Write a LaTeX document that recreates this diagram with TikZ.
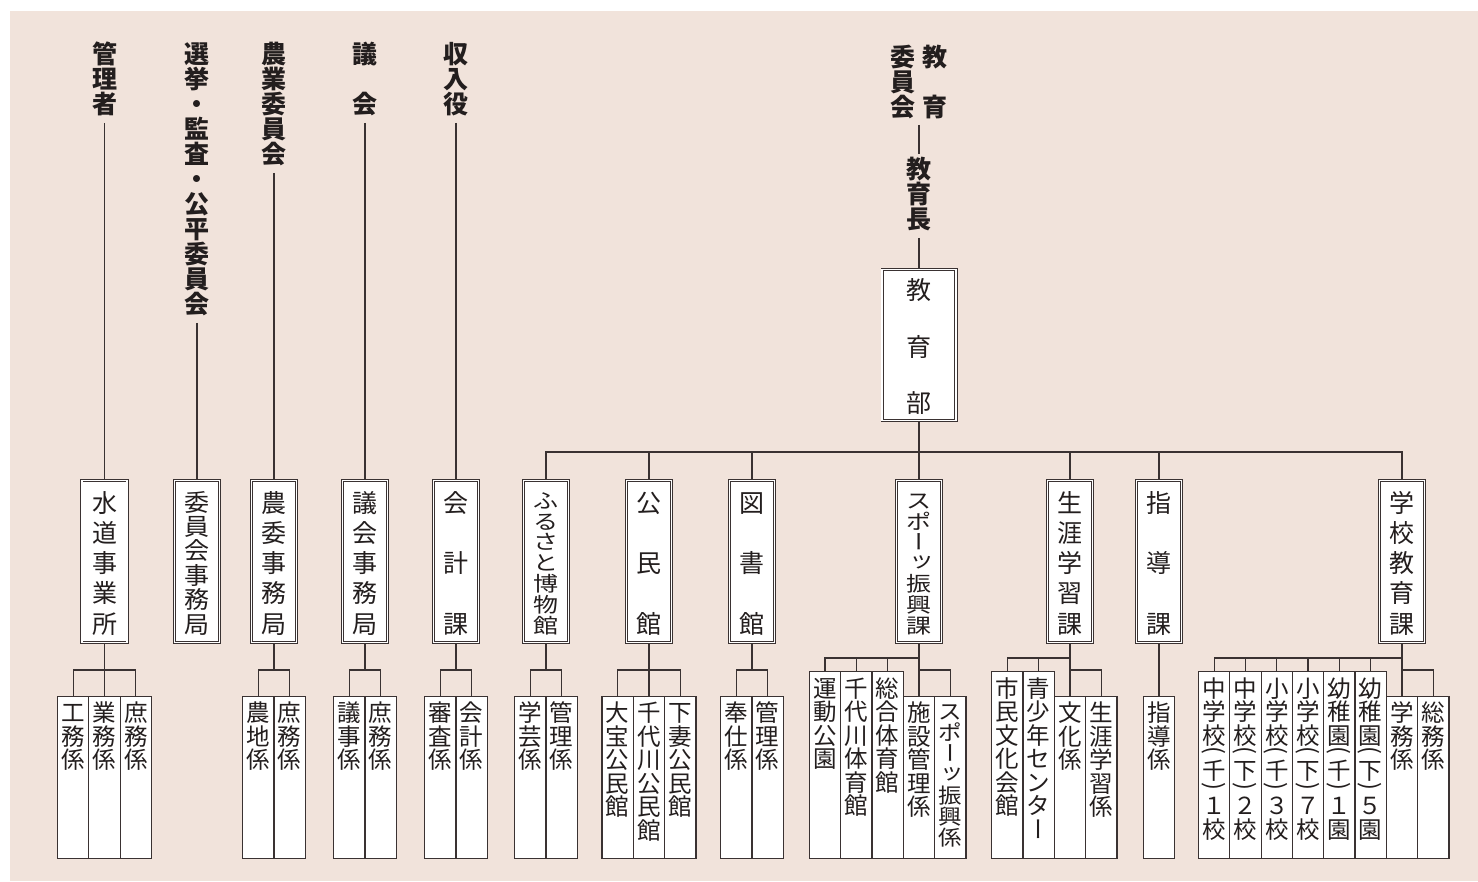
\documentclass[tikz,border=0pt]{standalone}
\usepackage{fontspec}
\usepackage{graphicx}
\newfontfamily\jp{Noto Sans CJK JP}
\usetikzlibrary{calc}
\definecolor{bgpink}{RGB}{241,227,219}
\definecolor{lc}{RGB}{58,50,50}
\definecolor{tc}{RGB}{35,30,30}
\pgfdeclarelayer{bg}\pgfdeclarelayer{ln}\pgfsetlayers{bg,ln,main}
\def\sth{.88em}\def\std{.12em}\def\vf{1}
\newcommand\vitem{\hbox to 30pt{\hss\scalebox{1}[\vf]{\ch\vrule height\sth depth\std width0pt}\hss}}
\newcommand\vsp[3]{\vbox to #1{\offinterlineskip\def\vf{#2}\kern3pt\foreach \ch [count=\ci] in {#3}{\ifnum\ci>1 \vfill\fi\vitem}}}
\newcommand\vlf[3]{\vbox to #1{\offinterlineskip\def\vf{#2}\kern5pt\foreach \ch in {#3}{\vitem}\vfill}}
\newcommand\vst[1]{\vbox{\offinterlineskip\foreach \ch in {#1}{\vitem}}}
\newcommand\pa[1]{\def\sth{0pt}\def\std{0pt}\vbox to .5em{\vss\hbox{\rotatebox[origin=c]{-90}{#1\vrule height.88em depth.12em width0pt}}\vss}}
\newcommand\po{\pa{(}}
\newcommand\pc{\pa{)}}
\newcommand\cho{\rotatebox[origin=c]{-90}{ー\vrule height.88em depth.12em width0pt}}
\newcommand\ttu{\kern.1em\raisebox{.15em}{ッ}\kern-.1em}
\tikzset{
 conn/.style={draw=lc, line width=1.3pt},
 toplab/.style={anchor=north, inner sep=0pt, text=tc, font=\jp\bfseries\fontsize{25}{25}\selectfont},
 dbox/.style={draw=lc, double=white, double distance=1.6pt, line width=0.8pt, fill=white, inner sep=0pt, minimum width=45.3pt, minimum height=161.8pt, text=tc, font=\jp\fontsize{25}{25}\selectfont},
 leaf/.style={draw=lc, line width=1.2pt, fill=white, inner sep=0pt, minimum width=31.3pt, anchor=north, text=tc, font=\jp\fontsize{23.5}{23.5}\selectfont},
}
\begin{document}
\begin{tikzpicture}[x=1pt,y=-1pt]
\useasboundingbox (0,0) rectangle (1478,881);
\begin{pgfonlayer}{bg}
\fill[white] (0,0) rectangle (1478,881);
\fill[bgpink] (10,11) rectangle (1478,881);
\end{pgfonlayer}
% top labels
\node[toplab] (t1) at (104.5,41.5) {\vst{管,理,者}};
\node[toplab] (t2) at (197,41.5) {\vst{選,挙,・,監,査,・,公,平,委,員,会}};
\node[toplab] (t3) at (274,41.5) {\vst{農,業,委,員,会}};
\node[toplab] (t4) at (365,41.5) {\vst{議,,会}};
\node[toplab] (t5) at (456,41.5) {\vst{収,入,役}};
\node[toplab] (ec) at (919,44.5) {\vst{委,員,会}\kern2.6pt\vst{教,,育}};
\node[toplab] (ech) at (919,156.5) {\vst{教,育,長}};
% boxes
\node[dbox, minimum width=73.8pt, minimum height=150.8pt] (bu) at (919,345) {\vsp{138pt}{1}{教,育,部}};
\node[dbox] (b1) at (104.5,561.5) {\vsp{146pt}{1}{水,道,事,業,所}};
\node[dbox] (b2) at (197,561.5) {\vsp{146pt}{0.953}{委,員,会,事,務,局}};
\node[dbox] (b3) at (274,561.5) {\vsp{146pt}{1}{農,委,事,務,局}};
\node[dbox] (b4) at (365,561.5) {\vsp{146pt}{1}{議,会,事,務,局}};
\node[dbox] (b5) at (456,561.5) {\vsp{146pt}{1}{会,計,課}};
\node[dbox] (b6) at (546,561.5) {\vsp{146pt}{0.817}{ふ,る,さ,と,博,物,館}};
\node[dbox] (b7) at (649,561.5) {\vsp{146pt}{1}{公,民,館}};
\node[dbox] (b8) at (752,561.5) {\vsp{146pt}{1}{図,書,館}};
\node[dbox] (b9) at (919,561.5) {\vsp{146pt}{0.817}{ス,ポ,\cho,\ttu,振,興,課}};
\node[dbox] (b10) at (1070,561.5) {\vsp{146pt}{1}{生,涯,学,習,課}};
\node[dbox] (b11) at (1159,561.5) {\vsp{146pt}{1}{指,導,課}};
\node[dbox] (b12) at (1402,561.5) {\vsp{146pt}{1}{学,校,教,育,課}};
% leaves
\node[leaf] (l1a) at (73.2,695.5) {\vlf{162.5pt}{1}{工,務,係}};
\node[leaf] (l1b) at (104.5,695.5) {\vlf{162.5pt}{1}{業,務,係}};
\node[leaf] (l1c) at (135.8,695.5) {\vlf{162.5pt}{1}{庶,務,係}};
\node[leaf] (l3a) at (258.35,695.5) {\vlf{162.5pt}{1}{農,地,係}};
\node[leaf] (l3b) at (289.65,695.5) {\vlf{162.5pt}{1}{庶,務,係}};
\node[leaf] (l4a) at (349.35,695.5) {\vlf{162.5pt}{1}{議,事,係}};
\node[leaf] (l4b) at (380.65,695.5) {\vlf{162.5pt}{1}{庶,務,係}};
\node[leaf] (l5a) at (440.35,695.5) {\vlf{162.5pt}{1}{審,査,係}};
\node[leaf] (l5b) at (471.65,695.5) {\vlf{162.5pt}{1}{会,計,係}};
\node[leaf] (l6a) at (530.35,695.5) {\vlf{162.5pt}{1}{学,芸,係}};
\node[leaf] (l6b) at (561.65,695.5) {\vlf{162.5pt}{1}{管,理,係}};
\node[leaf] (l7a) at (617.7,695.5) {\vlf{162.5pt}{1}{大,宝,公,民,館}};
\node[leaf] (l7b) at (649,695.5) {\vlf{162.5pt}{1}{千,代,川,公,民,館}};
\node[leaf] (l7c) at (680.3,695.5) {\vlf{162.5pt}{1}{下,妻,公,民,館}};
\node[leaf] (l8a) at (736.35,695.5) {\vlf{162.5pt}{1}{奉,仕,係}};
\node[leaf] (l8b) at (767.65,695.5) {\vlf{162.5pt}{1}{管,理,係}};
\node[leaf] (l9a) at (825.1,671) {\vlf{187pt}{1}{運,動,公,園}};
\node[leaf] (l9b) at (856.4,671) {\vlf{187pt}{1}{千,代,川,体,育,館}};
\node[leaf] (l9c) at (887.7,671) {\vlf{187pt}{1}{総,合,体,育,館}};
\node[leaf] (l9d) at (919,695.5) {\vlf{162.5pt}{1}{施,設,管,理,係}};
\node[leaf] (l9e) at (950.3,695.5) {\vlf{162.5pt}{0.89}{ス,ポ,\cho,\ttu,振,興,係}};
\node[leaf] (l10a) at (1007.4,671) {\vlf{187pt}{1}{市,民,文,化,会,館}};
\node[leaf] (l10b) at (1038.7,671) {\vlf{187pt}{1}{青,少,年,セ,ン,タ,\cho}};
\node[leaf] (l10c) at (1070,695.5) {\vlf{162.5pt}{1}{文,化,係}};
\node[leaf] (l10d) at (1101.3,695.5) {\vlf{162.5pt}{1}{生,涯,学,習,係}};
\node[leaf] (l11) at (1159,695.5) {\vlf{162.5pt}{1}{指,導,係}};
\node[leaf] (l12a) at (1214.2,671) {\vlf{187pt}{1}{中,学,校,\po,千,\pc,１,校}};
\node[leaf] (l12b) at (1245.5,671) {\vlf{187pt}{1}{中,学,校,\po,下,\pc,２,校}};
\node[leaf] (l12c) at (1276.8,671) {\vlf{187pt}{1}{小,学,校,\po,千,\pc,３,校}};
\node[leaf] (l12d) at (1308.1,671) {\vlf{187pt}{1}{小,学,校,\po,下,\pc,７,校}};
\node[leaf] (l12e) at (1339.4,671) {\vlf{187pt}{1}{幼,稚,園,\po,千,\pc,１,園}};
\node[leaf] (l12f) at (1370.7,671) {\vlf{187pt}{1}{幼,稚,園,\po,下,\pc,５,園}};
\node[leaf] (l12g) at (1402,695.5) {\vlf{162.5pt}{1}{学,務,係}};
\node[leaf] (l12h) at (1433.3,695.5) {\vlf{162.5pt}{1}{総,務,係}};
% connectors
\begin{pgfonlayer}{ln}
\draw[conn,shorten <=6pt] (t1) -- (b1);
\draw[conn,shorten <=6pt] (t2) -- (b2);
\draw[conn,shorten <=6pt] (t3) -- (b3);
\draw[conn,shorten <=6pt] (t4) -- (b4);
\draw[conn,shorten <=6pt] (t5) -- (b5);
\draw[conn,shorten <=5pt,shorten >=3pt] (ec) -- (ech);
\draw[conn,shorten <=6pt] (ech) -- (bu);
\coordinate (mb) at (919,452);
\draw[conn] (bu) -- (mb);
\draw[conn] (b6) |- (mb) -| (b12);
\draw[conn] (b7) -- (b7 |- mb);
\draw[conn] (b8) -- (b8 |- mb);
\draw[conn] (b10) -- (b10 |- mb);
\draw[conn] (b11) -- (b11 |- mb);
\draw[conn] (mb) -- (b9);
% group 1
\coordinate (j1) at (104.5,670);
\draw[conn] (b1) -- (j1);
\draw[conn] (l1a) |- (j1) -| (l1c);
\draw[conn] (l1b) -- (j1);
\coordinate (j3) at (274,670);
\draw[conn] (b3) -- (j3);
\draw[conn] (l3a) |- (j3) -| (l3b);
\coordinate (j4) at (365,670);
\draw[conn] (b4) -- (j4);
\draw[conn] (l4a) |- (j4) -| (l4b);
\coordinate (j5) at (456,670);
\draw[conn] (b5) -- (j5);
\draw[conn] (l5a) |- (j5) -| (l5b);
\coordinate (j6) at (546,670);
\draw[conn] (b6) -- (j6);
\draw[conn] (l6a) |- (j6) -| (l6b);
\coordinate (j7) at (649,670);
\draw[conn] (b7) -- (j7);
\draw[conn] (l7a) |- (j7) -| (l7c);
\draw[conn] (l7b) -- (j7);
\coordinate (j8) at (752,670);
\draw[conn] (b8) -- (j8);
\draw[conn] (l8a) |- (j8) -| (l8b);
% group 9
\coordinate (u9) at (919,658);
\coordinate (w9) at (919,670);
\draw[conn] (b9) -- (l9d);
\draw[conn] (l9a) |- (u9);
\draw[conn] (l9b) -- (l9b |- u9);
\draw[conn] (l9c) -- (l9c |- u9);
\draw[conn] (l9e) |- (w9);
% group 10
\coordinate (u10) at (1070,658);
\coordinate (w10) at (1070,670);
\draw[conn] (b10) -- (l10c);
\draw[conn] (l10a) |- (u10);
\draw[conn] (l10b) -- (l10b |- u10);
\draw[conn] (l10d) |- (w10);
% group 11
\draw[conn] (b11) -- (l11);
% group 12
\coordinate (u12) at (1402,658);
\coordinate (w12) at (1402,670);
\draw[conn] (b12) -- (l12g);
\draw[conn] (l12a) |- (u12);
\draw[conn] (l12b) -- (l12b |- u12);
\draw[conn] (l12c) -- (l12c |- u12);
\draw[conn] (l12d) -- (l12d |- u12);
\draw[conn] (l12e) -- (l12e |- u12);
\draw[conn] (l12f) -- (l12f |- u12);
\draw[conn] (l12h) |- (w12);
\end{pgfonlayer}
\end{tikzpicture}
\end{document}
